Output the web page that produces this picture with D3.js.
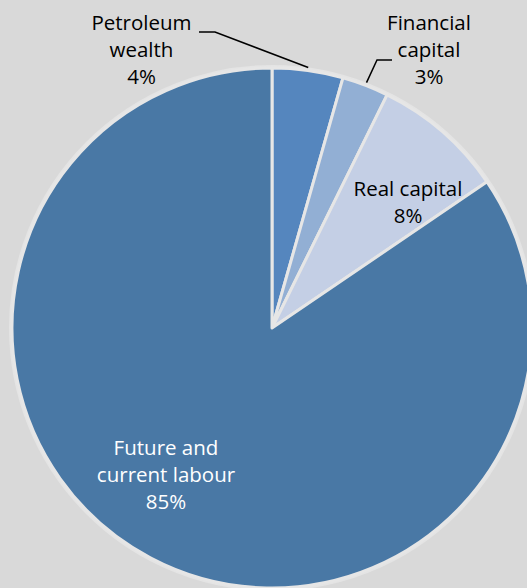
<!DOCTYPE html>
<html>
<head>
<meta charset="utf-8">
<script src="https://cdn.jsdelivr.net/npm/d3@7/dist/d3.min.js"></script>
<style>
  html, body { margin: 0; padding: 0; background: #D9D9D9; }
  svg { display: block; }
</style>
</head>
<body>
<svg id="chart" width="527" height="588"></svg>
<script>
// Composition of national wealth, per cent
const categories = ["Petroleum wealth", "Financial capital", "Real capital", "Future and current labour"];
const values = [4.4, 2.9, 8.2, 84.5];
const labelLines = [["Petroleum", "wealth"], ["Financial", "capital"], ["Real capital"], ["Future and", "current labour"]];

const colors = ["#5586BE", "#92AFD4", "#C4CFE5", "#4978A5"];
const textColors = ["#000", "#000", "#000", "#fff"];

const W = 527, H = 588;
const cx = 272, cy = 328, R = 260;

// label anchor (centre / baseline of the first line) for each slice, and leader-line side
const labelLayout = [
  { x: 141.5, y: 30, leader: "right" },
  { x: 429, y: 30, leader: "left" },
  { x: 408, y: 196, leader: null },
  { x: 166, y: 455, leader: null }
];
const lineH = 27;

const svg = d3.select("#chart");
svg.append("rect").attr("width", W).attr("height", H).attr("fill", "#D9D9D9");

const pie = d3.pie().sort(null).value(d => d)(values);
const arc = d3.arc().innerRadius(0).outerRadius(R);

const g = svg.append("g").attr("transform", `translate(${cx},${cy})`);

// soft outer ring
g.append("circle").attr("r", R + 1.5).attr("fill", "none")
  .attr("stroke", "#E4E4E4").attr("stroke-width", 3);

g.selectAll("path.slice").data(pie).join("path")
  .attr("class", "slice")
  .attr("d", arc)
  .attr("fill", (d, i) => colors[i])
  .attr("stroke", "#E6E6E6")
  .attr("stroke-width", 3)
  .attr("stroke-linejoin", "round");

const fmt = v => Math.round(v) + "%";

// labels
const labels = svg.append("g").attr("font-family", "'Open Sans', sans-serif").attr("font-size", 20.5);
pie.forEach((d, i) => {
  const L = labelLayout[i];
  const lines = labelLines[i].concat([fmt(values[i])]);
  const t = labels.append("text").attr("text-anchor", "middle").attr("fill", textColors[i]);
  lines.forEach((s, k) => {
    t.append("tspan").attr("x", L.x).attr("y", L.y + k * lineH).text(s);
  });
  if (L.leader) {
    // leader from the label to the outer edge at the slice's mid-angle
    const a = (d.startAngle + d.endAngle) / 2;
    const ex = cx + Math.sin(a) * (R + 3), ey = cy - Math.cos(a) * (R + 3);
    let pts;
    if (L.leader === "right") {
      const y0 = L.y + 2, x0 = 199;
      pts = [[x0, y0], [x0 + 16, y0], [ex, ey]];
    } else {
      const y0 = L.y + 30, x0 = 392;
      pts = [[x0, y0], [x0 - 15, y0], [ex, ey]];
    }
    svg.append("path").attr("d", d3.line()(pts))
      .attr("fill", "none").attr("stroke", "#000").attr("stroke-width", 1.5);
  }
});
</script>
</body>
</html>
